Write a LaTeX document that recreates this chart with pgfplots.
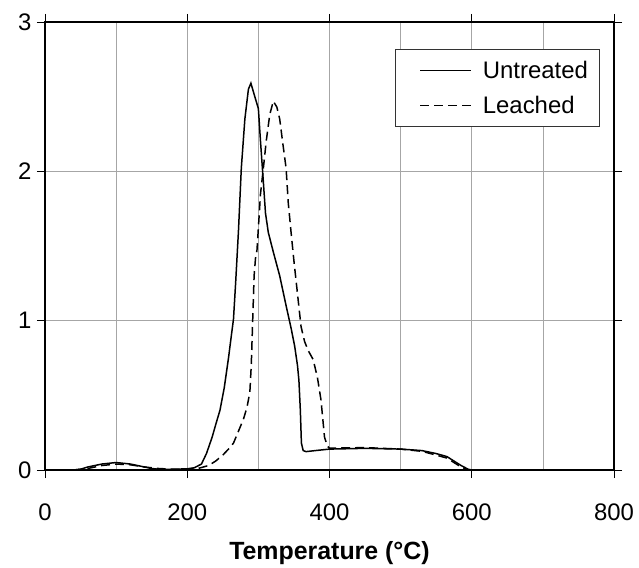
\documentclass[border=0pt]{standalone}
\usepackage{pgfplots}
\pgfplotsset{compat=1.18}
\usepackage{fontspec}
\setmainfont{Liberation Sans}
\begin{document}
\begin{tikzpicture}
\begin{axis}[
  scale only axis, width=569bp, height=448bp,
  xmin=0, xmax=800, ymin=0, ymax=3,
  xtick={0,200,...,800}, minor xtick={100,300,500,700},
  ytick={0,1,2,3},
  grid=both,
  major grid style={gray!70, line width=0.6pt},
  minor grid style={gray!70, line width=0.6pt},
  tick align=outside, major tick length=8bp, minor tick length=0pt,
  tick style={black, line width=0.8pt},
  axis line style={black, line width=1.4pt},
  /pgf/number format/assume math mode=true,
  tick label style={font=\fontsize{24}{28}\selectfont},
  xticklabel style={yshift=-22bp},
  yticklabel style={xshift=-2bp},
  xlabel={\textbf{Temperature (°C)}},
  xlabel style={font=\fontsize{25}{28}\selectfont, yshift=-14bp},
  legend style={at={(0.974,0.94)}, anchor=north east, draw=black!80, line width=0.6pt,
    font=\fontsize{24}{28}\selectfont, row sep=12bp, inner xsep=9bp, inner ysep=10bp},
  legend cell align=left,
  legend image code/.code={\path (0bp,0bp); \draw[#1] (15bp,0bp) -- (66bp,0bp); \path (75bp,0bp);},
]
\addplot[black, line width=1.5pt] coordinates {
(40,0)(50,0.005)(60,0.02)(70,0.03)(80,0.04)(90,0.045)(100,0.05)(110,0.045)(120,0.04)(130,0.03)(140,0.02)(150,0.01)(160,0.005)(180,0.005)(200,0.008)(210,0.015)(220,0.04)(227,0.11)(235,0.22)(241,0.32)(246,0.40)(252,0.55)(258,0.75)(262,0.9)(265,1.01)(268,1.25)(272,1.6)(276,2.02)(281,2.35)(286,2.55)(289.5,2.59)(295,2.5)(300,2.42)(303,2.2)(307,1.93)(310,1.72)(314,1.59)(321,1.46)(330,1.3)(339,1.10)(346,0.95)(351,0.83)(355,0.7)(357,0.6)(359,0.4)(360.5,0.18)(363,0.13)(367,0.123)(380,0.13)(400,0.14)(450,0.145)(500,0.14)(530,0.13)(550,0.11)(565,0.09)(575,0.06)(585,0.03)(595,0.005)(600,0)
};
\addlegendentry{Untreated}
\addplot[black, line width=1.5pt, dash pattern=on 9bp off 5bp] coordinates {
(40,0)(60,0.01)(80,0.03)(100,0.04)(120,0.035)(140,0.02)(160,0.01)(180,0.005)(200,0.005)(215,0.01)(230,0.03)(240,0.06)(250,0.1)(258,0.14)(265,0.18)(272,0.26)(279,0.34)(284,0.42)(288,0.52)(290,0.7)(292,1.0)(294,1.3)(296,1.42)(298,1.47)(300,1.62)(303,1.85)(307,2.02)(311,2.2)(316,2.38)(321,2.47)(326,2.43)(330,2.35)(334,2.2)(339,2.02)(342,1.79)(346,1.59)(350,1.4)(355,1.18)(360,0.96)(365,0.86)(370,0.80)(377,0.74)(383,0.62)(388,0.47)(391,0.32)(393,0.22)(397,0.16)(400,0.146)(450,0.15)(500,0.14)(530,0.125)(550,0.1)(565,0.08)(575,0.05)(585,0.02)(595,0)(600,0)
};
\addlegendentry{Leached}
\end{axis}
\path (current axis.south west) ++(-45bp,-98bp) coordinate (bl);
\path (current axis.north east) ++(25bp,22bp) coordinate (tr);
\useasboundingbox (bl) rectangle (tr);
\end{tikzpicture}
\end{document}
